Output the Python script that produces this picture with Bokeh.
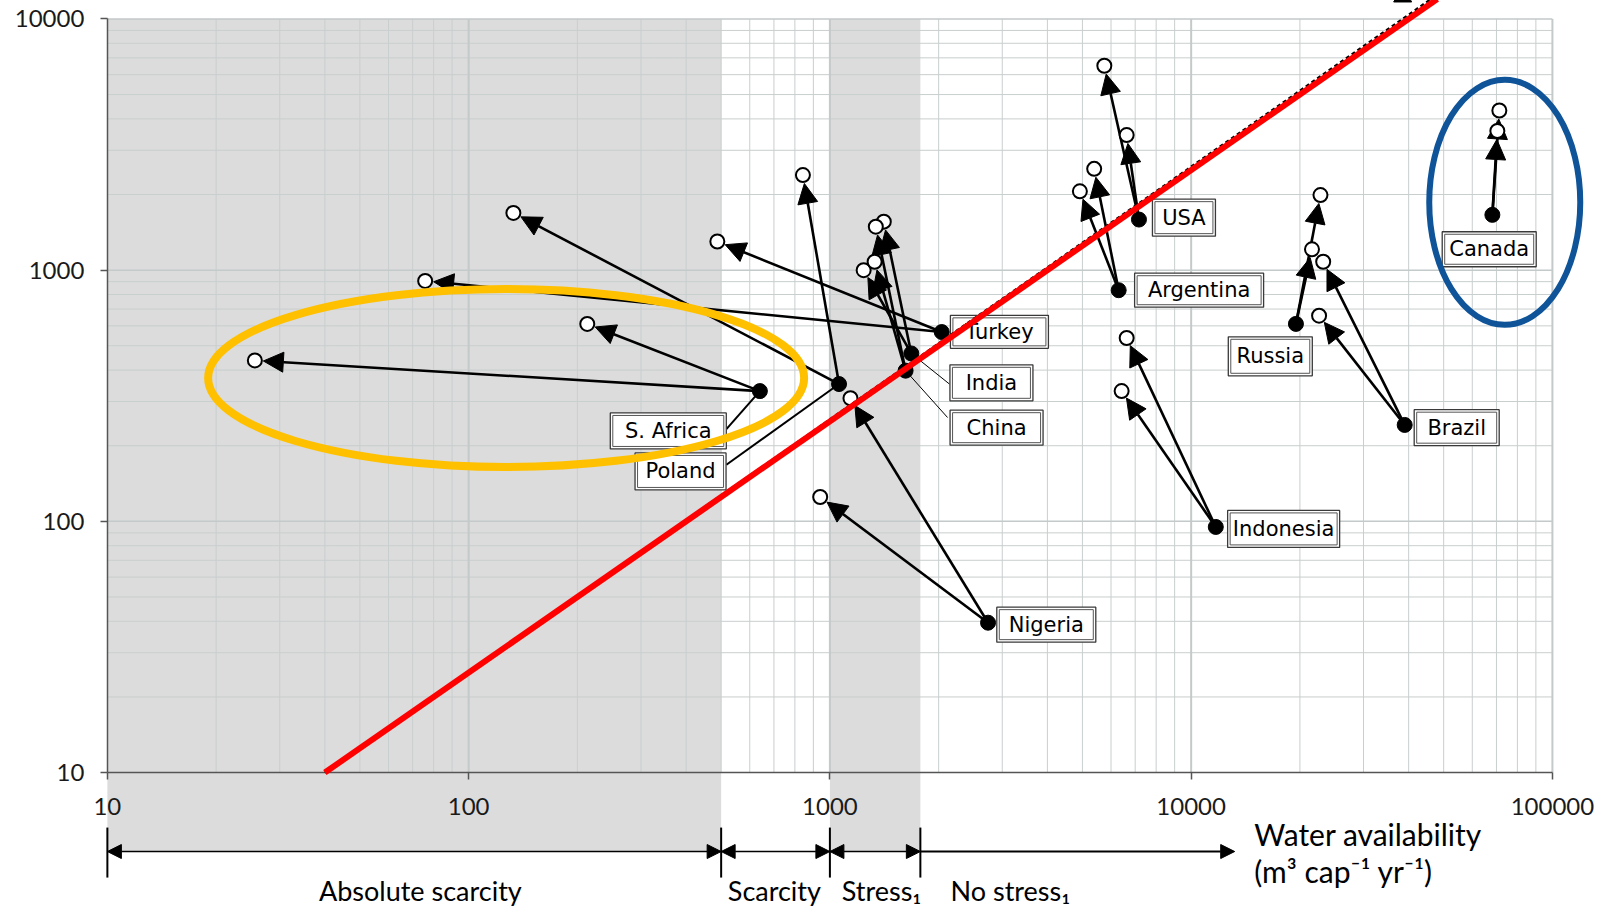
import math
from bokeh.plotting import figure
from bokeh.models import (ColumnDataSource, Arrow, NormalHead, FixedTicker,
                          PrintfTickFormatter, Range1d)
from bokeh.core.properties import value
from bokeh.embed import file_html
from bokeh.resources import INLINE

# ---------------- data ----------------
countries = ["S. Africa", "Turkey", "Poland", "Nigeria", "India", "China",
             "USA", "Argentina", "Indonesia", "Russia", "Brazil", "Canada"]
# present situation (filled dots)
now_x = [640, 2040, 1060, 2740, 1680, 1620, 7170, 6300, 11700, 19500, 39000, 68200]
now_y = [330, 567, 352, 39.5, 466, 398, 1590, 832, 95, 611, 242, 1660]
# future scenario A (open circles)
fut_a_x = [25.6, 488, 133, 940, 1410, 1340, 5750, 4920, 6630, 22800, 23200, 70400]
fut_a_y = [437, 1300, 1690, 125, 1560, 1490, 6510, 2060, 537, 1990, 1080, 3580]
# future scenario B (open circles)
fut_b_x = [213, 75.8, 842, 1140, 1240, 1330, 6630, 5390, 6420, 21600, 22600, 71300]
fut_b_y = [611, 906, 2390, 309, 1000, 1080, 3450, 2530, 330, 1210, 659, 4320]

# threshold line (red) and reference line (black dashed)
red_x = [40, 48000]
red_y = [10, 12000]
ref_x = [40, 48000]
ref_y = [10, 12500]
# arrow head partly visible at the top edge
top_head_x = [38500]
top_head_y = [12250]

# water availability classes (m3 cap-1 yr-1)
class_names = ["Absolute scarcity", "Scarcity", "Stress\u2081", "No stress\u2081"]
class_lo = [10, 500, 1000, 1780]
class_hi = [500, 1000, 1780, 13200]
shaded_lo = [10, 1000]
shaded_hi = [500, 1780]

x_ticks = [10, 100, 1000, 10000, 100000]
y_ticks = [10, 100, 1000, 10000]

# ---------------- layout constants ----------------
W, H = 1599, 906
X_START, X_END = 5.06, 135000
Y_START, Y_END = 2.93, 11840
PXX = W / math.log10(X_END / X_START)
PXY = H / math.log10(Y_END / Y_START)

# label boxes: anchor position and box size (px)
lab_x = [357, 2946, 386, 3972, 2800, 2893, 9550, 10520, 18030, 16560, 54330, 66840]
lab_y = [229, 568, 158, 38.8, 356, 236, 1618, 832, 93.3, 454, 236, 1211]
box_w = [116, 98, 91, 99, 83, 93, 63, 129, 112, 84, 85, 94]
box_h = [36, 33, 37, 35, 36, 35, 37, 34, 37, 39, 36, 35]

# leader lines from label to dot
lead_idx = [0, 2, 4, 5]
lead_x0 = [517, 517, 2143, 2117]
lead_y0 = [233, 168, 352, 259]
lead_w = [2, 2, 1, 1]


def shorten(x0, y0, x1, y1, d):
    ax, ay = math.log10(x0) * PXX, math.log10(y0) * PXY
    bx, by = math.log10(x1) * PXX, math.log10(y1) * PXY
    L = math.hypot(bx - ax, by - ay)
    t = (L - d) / L
    return 10 ** ((ax + (bx - ax) * t) / PXX), 10 ** ((ay + (by - ay) * t) / PXY)


p = figure(width=W, height=H, x_axis_type="log", y_axis_type="log",
           x_range=Range1d(X_START, X_END), y_range=Range1d(Y_START, Y_END),
           output_backend="svg", toolbar_location=None,
           min_border_left=0, min_border_right=0,
           min_border_top=0, min_border_bottom=0)
p.outline_line_color = None
p.background_fill_color = "white"
p.border_fill_color = "white"
p.xgrid.visible = False
p.ygrid.visible = False

# axes
for ax in (p.xaxis[0], p.yaxis[0]):
    ax.axis_line_color = "#555555"
    ax.axis_line_width = 1.5
    ax.major_tick_line_color = "#555555"
    ax.major_tick_line_width = 1.5
    ax.major_tick_out = 7
    ax.major_tick_in = 0
    ax.minor_tick_line_color = None
    ax.major_label_text_font = "Lato"
    ax.major_label_text_font_size = "24px"
    ax.major_label_text_color = "#1a1a1a"
    ax.formatter = PrintfTickFormatter(format="%d")
p.xaxis.ticker = FixedTicker(ticks=x_ticks)
p.yaxis.ticker = FixedTicker(ticks=y_ticks)
p.xaxis.bounds = (x_ticks[0], x_ticks[-1])
p.yaxis.bounds = (y_ticks[0], y_ticks[-1])
p.xaxis.fixed_location = y_ticks[0]
p.yaxis.fixed_location = x_ticks[0]
p.xaxis.major_label_standoff = 18
p.yaxis.major_label_standoff = 16

# shaded classes
p.quad(left=shaded_lo, right=shaded_hi, bottom=4.85, top=y_ticks[-1],
       fill_color="#dcdcdc", line_color=None, level="image")

# grid
gx_minor = [m * 10 ** k for k in range(1, 5) for m in range(2, 10)]
gy_minor = [m * 10 ** k for k in range(1, 4) for m in range(2, 10)]
p.segment(x0=gx_minor, y0=y_ticks[0], x1=gx_minor, y1=y_ticks[-1],
          line_color="#c9cece", line_width=1, level="underlay")
p.segment(x0=x_ticks[0], y0=gy_minor, x1=x_ticks[-1], y1=gy_minor,
          line_color="#c9cece", line_width=1, level="underlay")
p.segment(x0=x_ticks[1:], y0=y_ticks[0], x1=x_ticks[1:], y1=y_ticks[-1],
          line_color="#c4c9c9", line_width=2, level="underlay")
p.segment(x0=x_ticks[0], y0=y_ticks[1:], x1=x_ticks[-1], y1=y_ticks[1:],
          line_color="#c4c9c9", line_width=1.5, level="underlay")

# leader lines
p.segment(x0=lead_x0, y0=lead_y0,
          x1=[now_x[i] for i in lead_idx], y1=[now_y[i] for i in lead_idx],
          line_color="black", line_width=lead_w, level="underlay")

# arrows from present to future
ax0, ay0, ax1, ay1 = [], [], [], []
for i in range(len(countries)):
    for fx, fy in ((fut_a_x[i], fut_a_y[i]), (fut_b_x[i], fut_b_y[i])):
        ex, ey = shorten(now_x[i], now_y[i], fx, fy, 8.5)
        ax0.append(now_x[i]); ay0.append(now_y[i]); ax1.append(ex); ay1.append(ey)
arr_src = ColumnDataSource(dict(x0=ax0, y0=ay0, x1=ax1, y1=ay1))
p.add_layout(Arrow(end=NormalHead(size=20, fill_color="black", line_color="black"),
                   x_start="x0", y_start="y0", x_end="x1", y_end="y1",
                   source=arr_src, line_width=2.6, line_color="black", level="glyph"))

# points
p.scatter(now_x, now_y, size=15, fill_color="black", line_color="black",
          level="annotation")
p.scatter(fut_a_x + fut_b_x, fut_a_y + fut_b_y, size=14, fill_color="white",
          line_color="black", line_width=2, level="annotation")

# label boxes
p.rect(x=lab_x, y=lab_y, width=box_w, height=box_h, width_units="screen",
       height_units="screen", fill_color="white", line_color="#3a3a3a",
       line_width=1.3, level="annotation")
p.rect(x=lab_x, y=lab_y, width=[w - 5 for w in box_w], height=[h - 5 for h in box_h],
       width_units="screen", height_units="screen", fill_color=None,
       line_color="#555555", line_width=1, level="annotation")
p.text(x=lab_x, y=lab_y, text=countries, text_font=value("DejaVu Sans"),
       text_font_size="21px", text_align="center", text_baseline="middle",
       text_color="black", level="annotation")

# lines
p.line(ref_x, ref_y, line_color="black", line_width=2.2, line_dash="4 3",
       level="annotation")
p.line(red_x, red_y, line_color="#ff0000", line_width=6, level="annotation")
p.scatter(top_head_x, top_head_y, marker="triangle", size=18, fill_color="black",
          line_color="black", level="annotation")

# highlight ellipses
p.ellipse(x=[127], y=[372], width=596, height=178, width_units="screen",
          height_units="screen", fill_color=None, line_color="#ffc000",
          line_width=8, level="annotation")
p.ellipse(x=[73800], y=[1862], width=151, height=245, width_units="screen",
          height_units="screen", fill_color=None, line_color="#0f5499",
          line_width=6, level="annotation")

# class brackets under the x axis
BR_Y = 4.85
br_src = ColumnDataSource(dict(x0=class_lo[:3], x1=class_hi[:3], y=[BR_Y] * 3))
p.add_layout(Arrow(start=NormalHead(size=14), end=NormalHead(size=14),
                   x_start="x0", y_start="y", x_end="x1", y_end="y",
                   source=br_src, line_width=1.5, level="annotation"))
ns_src = ColumnDataSource(dict(x0=class_lo[3:], x1=class_hi[3:], y=[BR_Y]))
p.add_layout(Arrow(end=NormalHead(size=14), x_start="x0", y_start="y",
                   x_end="x1", y_end="y", source=ns_src, line_width=2,
                   level="annotation"))
p.segment(x0=class_lo, y0=3.82, x1=class_lo, y1=6.04, line_color="black",
          line_width=2, level="annotation")
class_mid = [73.5, 702, 1390, 3160]
p.text(x=class_mid, y=3.39, text=class_names, text_font=value("Lato"),
       text_font_size="27px", text_align="center", text_baseline="middle",
       text_color="black", level="annotation")
p.text(x=[14960, 14960], y=[5.71, 4.07],
       text=["Water availability", "(m\u00b3 cap\u207b\u00b9 yr\u207b\u00b9)"],
       text_font=value("Lato"), text_font_size="30px", text_align="left",
       text_baseline="middle", text_color="black", level="annotation")

open("out.html", "w").write(file_html(p, INLINE))
